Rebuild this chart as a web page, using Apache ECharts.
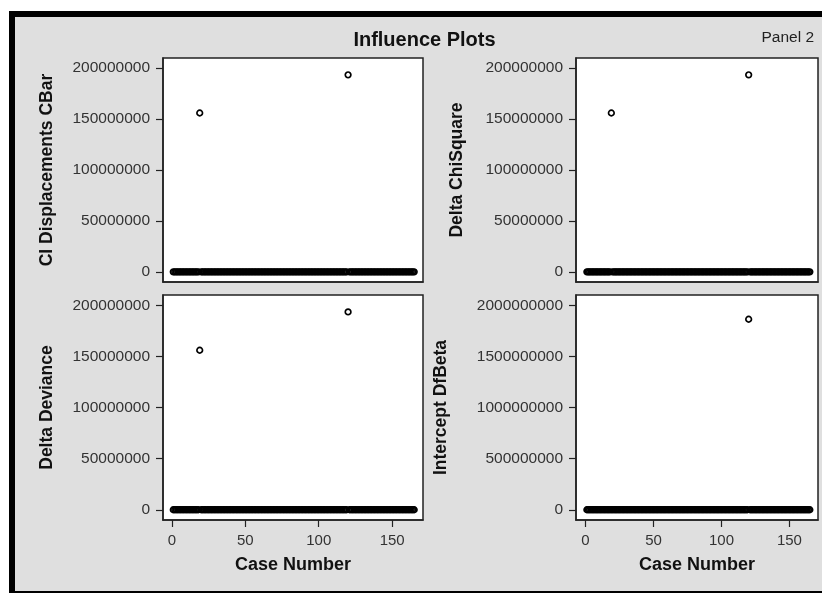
<!DOCTYPE html>
<html>
<head>
<meta charset="utf-8">
<title>Influence Plots</title>
<script src="https://cdn.jsdelivr.net/npm/echarts@6/dist/echarts.min.js"></script>
<style>
  html, body { margin: 0; padding: 0; background: #ffffff; }
  #chart { width: 822px; height: 593px; }
</style>
</head>
<body>
<div id="chart"></div>
<script>
// Case numbers 1..165 (one observation per case)
const caseNumbers = [
  1, 2, 3, 4, 5, 6, 7, 8, 9, 10, 11, 12, 13, 14, 15,
  16, 17, 18, 19, 20, 21, 22, 23, 24, 25, 26, 27, 28, 29, 30,
  31, 32, 33, 34, 35, 36, 37, 38, 39, 40, 41, 42, 43, 44, 45,
  46, 47, 48, 49, 50, 51, 52, 53, 54, 55, 56, 57, 58, 59, 60,
  61, 62, 63, 64, 65, 66, 67, 68, 69, 70, 71, 72, 73, 74, 75,
  76, 77, 78, 79, 80, 81, 82, 83, 84, 85, 86, 87, 88, 89, 90,
  91, 92, 93, 94, 95, 96, 97, 98, 99, 100, 101, 102, 103, 104, 105,
  106, 107, 108, 109, 110, 111, 112, 113, 114, 115, 116, 117, 118, 119, 120,
  121, 122, 123, 124, 125, 126, 127, 128, 129, 130, 131, 132, 133, 134, 135,
  136, 137, 138, 139, 140, 141, 142, 143, 144, 145, 146, 147, 148, 149, 150,
  151, 152, 153, 154, 155, 156, 157, 158, 159, 160, 161, 162, 163, 164, 165
];

// CI Displacements CBar
const ciDisplacementsCBar = [
  0, 0, 0, 0, 0, 0, 0, 0, 0, 0, 0, 0, 0, 0, 0,
  0, 0, 0, 156000000, 0, 0, 0, 0, 0, 0, 0, 0, 0, 0, 0,
  0, 0, 0, 0, 0, 0, 0, 0, 0, 0, 0, 0, 0, 0, 0,
  0, 0, 0, 0, 0, 0, 0, 0, 0, 0, 0, 0, 0, 0, 0,
  0, 0, 0, 0, 0, 0, 0, 0, 0, 0, 0, 0, 0, 0, 0,
  0, 0, 0, 0, 0, 0, 0, 0, 0, 0, 0, 0, 0, 0, 0,
  0, 0, 0, 0, 0, 0, 0, 0, 0, 0, 0, 0, 0, 0, 0,
  0, 0, 0, 0, 0, 0, 0, 0, 0, 0, 0, 0, 0, 0, 193500000,
  0, 0, 0, 0, 0, 0, 0, 0, 0, 0, 0, 0, 0, 0, 0,
  0, 0, 0, 0, 0, 0, 0, 0, 0, 0, 0, 0, 0, 0, 0,
  0, 0, 0, 0, 0, 0, 0, 0, 0, 0, 0, 0, 0, 0, 0
];

// Delta ChiSquare
const deltaChiSquare = [
  0, 0, 0, 0, 0, 0, 0, 0, 0, 0, 0, 0, 0, 0, 0,
  0, 0, 0, 156000000, 0, 0, 0, 0, 0, 0, 0, 0, 0, 0, 0,
  0, 0, 0, 0, 0, 0, 0, 0, 0, 0, 0, 0, 0, 0, 0,
  0, 0, 0, 0, 0, 0, 0, 0, 0, 0, 0, 0, 0, 0, 0,
  0, 0, 0, 0, 0, 0, 0, 0, 0, 0, 0, 0, 0, 0, 0,
  0, 0, 0, 0, 0, 0, 0, 0, 0, 0, 0, 0, 0, 0, 0,
  0, 0, 0, 0, 0, 0, 0, 0, 0, 0, 0, 0, 0, 0, 0,
  0, 0, 0, 0, 0, 0, 0, 0, 0, 0, 0, 0, 0, 0, 193500000,
  0, 0, 0, 0, 0, 0, 0, 0, 0, 0, 0, 0, 0, 0, 0,
  0, 0, 0, 0, 0, 0, 0, 0, 0, 0, 0, 0, 0, 0, 0,
  0, 0, 0, 0, 0, 0, 0, 0, 0, 0, 0, 0, 0, 0, 0
];

// Delta Deviance
const deltaDeviance = [
  0, 0, 0, 0, 0, 0, 0, 0, 0, 0, 0, 0, 0, 0, 0,
  0, 0, 0, 156000000, 0, 0, 0, 0, 0, 0, 0, 0, 0, 0, 0,
  0, 0, 0, 0, 0, 0, 0, 0, 0, 0, 0, 0, 0, 0, 0,
  0, 0, 0, 0, 0, 0, 0, 0, 0, 0, 0, 0, 0, 0, 0,
  0, 0, 0, 0, 0, 0, 0, 0, 0, 0, 0, 0, 0, 0, 0,
  0, 0, 0, 0, 0, 0, 0, 0, 0, 0, 0, 0, 0, 0, 0,
  0, 0, 0, 0, 0, 0, 0, 0, 0, 0, 0, 0, 0, 0, 0,
  0, 0, 0, 0, 0, 0, 0, 0, 0, 0, 0, 0, 0, 0, 193500000,
  0, 0, 0, 0, 0, 0, 0, 0, 0, 0, 0, 0, 0, 0, 0,
  0, 0, 0, 0, 0, 0, 0, 0, 0, 0, 0, 0, 0, 0, 0,
  0, 0, 0, 0, 0, 0, 0, 0, 0, 0, 0, 0, 0, 0, 0
];

// Intercept DfBeta
const interceptDfBeta = [
  0, 0, 0, 0, 0, 0, 0, 0, 0, 0, 0, 0, 0, 0, 0,
  0, 0, 0, 0, 0, 0, 0, 0, 0, 0, 0, 0, 0, 0, 0,
  0, 0, 0, 0, 0, 0, 0, 0, 0, 0, 0, 0, 0, 0, 0,
  0, 0, 0, 0, 0, 0, 0, 0, 0, 0, 0, 0, 0, 0, 0,
  0, 0, 0, 0, 0, 0, 0, 0, 0, 0, 0, 0, 0, 0, 0,
  0, 0, 0, 0, 0, 0, 0, 0, 0, 0, 0, 0, 0, 0, 0,
  0, 0, 0, 0, 0, 0, 0, 0, 0, 0, 0, 0, 0, 0, 0,
  0, 0, 0, 0, 0, 0, 0, 0, 0, 0, 0, 0, 0, 0, 1863000000,
  0, 0, 0, 0, 0, 0, 0, 0, 0, 0, 0, 0, 0, 0, 0,
  0, 0, 0, 0, 0, 0, 0, 0, 0, 0, 0, 0, 0, 0, 0,
  0, 0, 0, 0, 0, 0, 0, 0, 0, 0, 0, 0, 0, 0, 0
];

// Tick values
const caseTicks = [0, 50, 100, 150];
const statTicks = [0, 50000000, 100000000, 150000000, 200000000];
const dfbetaTicks = [0, 500000000, 1000000000, 1500000000, 2000000000];

const FONT = '"Liberation Sans", Arial, sans-serif';
const INK = '#111111';
const LABEL = '#333333';

const panels = [
  { name: 'CI Displacements CBar', values: ciDisplacementsCBar, ticks: statTicks,
    yMin: -10000000, yMax: 210000000, xMin: -6, xMax: 171,
    grid: { left: 163, top: 58, width: 260, height: 224 }, nameGap: 107, showX: false },
  { name: 'Delta ChiSquare', values: deltaChiSquare, ticks: statTicks,
    yMin: -10000000, yMax: 210000000, xMin: -7, xMax: 171,
    grid: { left: 576, top: 58, width: 242, height: 224 }, nameGap: 110, showX: false },
  { name: 'Delta Deviance', values: deltaDeviance, ticks: statTicks,
    yMin: -10000000, yMax: 210000000, xMin: -6, xMax: 171,
    grid: { left: 163, top: 295, width: 260, height: 225 }, nameGap: 107, showX: true },
  { name: 'Intercept DfBeta', values: interceptDfBeta, ticks: dfbetaTicks,
    yMin: -100000000, yMax: 2100000000, xMin: -7, xMax: 171,
    grid: { left: 576, top: 295, width: 242, height: 225 }, nameGap: 126, showX: true }
];

const chart = echarts.init(document.getElementById('chart'), null, { renderer: 'canvas' });

const option = {
  animation: false,
  backgroundColor: '#ffffff',
  graphic: [
    // framed gray backdrop
    { type: 'rect', z: -10, silent: true, shape: { x: 9, y: 11, width: 813, height: 582 }, style: { fill: '#000000' } },
    { type: 'rect', z: -9, silent: true, shape: { x: 15, y: 17, width: 807, height: 574 }, style: { fill: '#dfdfdf' } },
    { type: 'text', z: 10, silent: true, style: { text: 'Influence Plots', x: 424.5, y: 40, align: 'center', verticalAlign: 'middle',
        font: 'bold 20px ' + FONT, fill: INK } },
    { type: 'text', z: 10, silent: true, style: { text: 'Panel 2', x: 814, y: 38, align: 'right', verticalAlign: 'middle',
        font: '15.5px ' + FONT, fill: '#222222' } }
  ],
  grid: panels.map(p => Object.assign({
    show: true, backgroundColor: '#ffffff', borderColor: '#222222', borderWidth: 1.5
  }, p.grid)),
  xAxis: panels.map((p, i) => ({
    gridIndex: i, type: 'value', min: p.xMin, max: p.xMax,
    name: p.showX ? 'Case Number' : '', nameLocation: 'middle', nameGap: 36,
    nameTextStyle: { fontFamily: FONT, fontWeight: 'bold', fontSize: 18, color: INK },
    axisLine: { show: true, onZero: false, lineStyle: { color: '#222222', width: 1.5 } },
    axisTick: { show: p.showX, length: 7, customValues: caseTicks, lineStyle: { color: '#222222', width: 1.2 } },
    axisLabel: { show: p.showX, customValues: caseTicks, margin: 13, fontFamily: FONT, fontSize: 15, color: LABEL },
    splitLine: { show: false }
  })),
  yAxis: panels.map((p, i) => ({
    gridIndex: i, type: 'value', min: p.yMin, max: p.yMax,
    name: p.name, nameLocation: 'middle', nameGap: p.nameGap, nameRotate: 90,
    nameTextStyle: { fontFamily: FONT, fontWeight: 'bold', fontSize: 17.5, color: INK },
    axisLine: { show: true, onZero: false, lineStyle: { color: '#222222', width: 1.5 } },
    axisTick: { show: true, length: 7, customValues: p.ticks, lineStyle: { color: '#222222', width: 1.2 } },
    axisLabel: { customValues: p.ticks, margin: 13, fontFamily: FONT, fontSize: 15.5, color: LABEL,
      formatter: v => String(Math.round(v)) },
    splitLine: { show: false }
  })),
  series: panels.map((p, i) => ({
    type: 'scatter', xAxisIndex: i, yAxisIndex: i, silent: true,
    symbol: 'circle', symbolSize: 5.6,
    itemStyle: { color: 'rgba(0,0,0,0)', borderColor: '#000000', borderWidth: 1.7, opacity: 1 },
    data: p.values.map((v, k) => [caseNumbers[k], v])
  }))
};

chart.setOption(option);
</script>
</body>
</html>
